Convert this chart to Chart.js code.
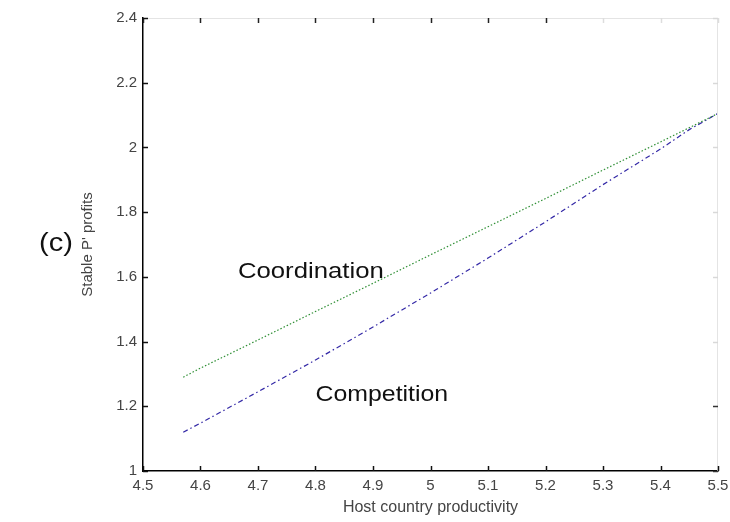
<!DOCTYPE html>
<html>
<head>
<title>Coordination vs Competition</title>
<script src="https://cdn.jsdelivr.net/npm/chart.js"></script>
<style>
body { margin: 0; background: #fff; }
</style>
</head>
<body>
<canvas id="chart" width="730" height="522"></canvas>
<script>
// values
const productivity = [4.57, 4.6, 4.7, 4.8, 4.9, 5.0, 5.1, 5.2, 5.3, 5.4, 5.45, 5.5];
const coordination = [1.29, 1.318, 1.405, 1.493, 1.58, 1.668, 1.755, 1.842, 1.93, 2.017, 2.061, 2.105];
const competition = [1.12, 1.148, 1.245, 1.343, 1.445, 1.55, 1.658, 1.77, 1.885, 1.995, 2.055, 2.105];
const xTicks = [4.5, 4.6, 4.7, 4.8, 4.9, 5.0, 5.1, 5.2, 5.3, 5.4, 5.5];
const yTicks = [1, 1.2, 1.4, 1.6, 1.8, 2.0, 2.2, 2.4];

const fmt = v => String(+Number(v).toFixed(1));
const FONT = '"Liberation Sans", Arial, sans-serif';

// MATLAB-like box: inward ticks on all sides, faint top/right edges, text labels
const boxPlugin = {
    id: 'box',
    afterDraw(chart) {
        const ctx = chart.ctx;
        const xs = chart.scales.x, ys = chart.scales.y;
        const a = chart.chartArea;
        ctx.save();
        ctx.lineWidth = 1;
        ctx.strokeStyle = '#e4e4e4';
        ctx.beginPath();
        ctx.moveTo(a.left, a.top + 0.5); ctx.lineTo(a.right, a.top + 0.5);
        ctx.moveTo(a.right - 0.5, a.top); ctx.lineTo(a.right - 0.5, a.bottom);
        ctx.stroke();

        ctx.lineWidth = 1.5;
        xs.ticks.forEach((t, i) => {
            const px = Math.round(xs.getPixelForTick(i)) + 0.5;
            ctx.strokeStyle = '#111';
            ctx.beginPath(); ctx.moveTo(px, a.bottom); ctx.lineTo(px, a.bottom - 5); ctx.stroke();
            ctx.strokeStyle = t.value > 5.25 ? '#dddddd' : '#222';
            ctx.beginPath(); ctx.moveTo(px, a.top); ctx.lineTo(px, a.top + 5); ctx.stroke();
        });
        ys.ticks.forEach((t, i) => {
            const py = Math.round(ys.getPixelForTick(i)) + 0.5;
            ctx.strokeStyle = '#111';
            ctx.beginPath(); ctx.moveTo(a.left, py); ctx.lineTo(a.left + 5, py); ctx.stroke();
            ctx.strokeStyle = t.value < 1.3 ? '#333' : '#d8d8d8';
            ctx.beginPath(); ctx.moveTo(a.right, py); ctx.lineTo(a.right - 5, py); ctx.stroke();
        });

        ctx.fillStyle = '#111';
        ctx.textBaseline = 'middle';
        ctx.textAlign = 'left';
        const label = (text, x, y, size, sx) => {
            ctx.save();
            ctx.translate(x, y);
            ctx.scale(sx, 1);
            ctx.font = size + 'px ' + FONT;
            ctx.fillText(text, 0, 0);
            ctx.restore();
        };
        label('Coordination', xs.getPixelForValue(4.665), ys.getPixelForValue(1.615), 22, 1.17);
        label('Competition', xs.getPixelForValue(4.80), ys.getPixelForValue(1.235), 22, 1.13);
        label('(c)', 39, 244, 26, 1.12);
        ctx.restore();
    }
};

new Chart(document.getElementById('chart'), {
    type: 'line',
    data: {
        datasets: [{
            label: 'Coordination',
            data: productivity.map((x, i) => ({ x: x, y: coordination[i] })),
            borderColor: '#2f8f35',
            borderWidth: 1.2,
            borderDash: [1.5, 2],
            pointRadius: 0,
            tension: 0
        }, {
            label: 'Competition',
            data: productivity.map((x, i) => ({ x: x, y: competition[i] })),
            borderColor: '#3328a6',
            borderWidth: 1.2,
            borderDash: [5, 3, 1.5, 3],
            pointRadius: 0,
            tension: 0
        }]
    },
    options: {
        responsive: false,
        animation: false,
        layout: { padding: { left: 79, right: 12, top: 18, bottom: 0 } },
        plugins: {
            legend: { display: false },
            tooltip: { enabled: false }
        },
        scales: {
            x: {
                type: 'linear',
                min: 4.5,
                max: 5.5,
                afterBuildTicks: s => { s.ticks = xTicks.map(v => ({ value: v })); },
                afterFit: s => { s.height = 51; s.paddingLeft = 0; s.paddingRight = 0; },
                grid: { display: false, drawTicks: false },
                border: { display: true, color: '#000', width: 1.5 },
                ticks: {
                    padding: 6,
                    maxRotation: 0,
                    autoSkip: false,
                    color: '#444',
                    font: { family: FONT, size: 15 },
                    callback: v => fmt(v)
                },
                title: {
                    display: true,
                    text: 'Host country productivity',
                    color: '#444',
                    font: { family: FONT, size: 16 },
                    padding: { top: 0, bottom: 5 }
                }
            },
            y: {
                type: 'linear',
                min: 1,
                max: 2.4,
                afterBuildTicks: s => { s.ticks = yTicks.map(v => ({ value: v })); },
                afterFit: s => { s.width = 64; s.paddingTop = 0; s.paddingBottom = 0; },
                grid: { display: false, drawTicks: false },
                border: { display: true, color: '#000', width: 1.5 },
                ticks: {
                    padding: 6,
                    autoSkip: false,
                    color: '#444',
                    font: { family: FONT, size: 15 },
                    callback: v => fmt(v)
                },
                title: {
                    display: true,
                    text: "Stable P' profits",
                    color: '#444',
                    font: { family: FONT, size: 15 },
                    padding: { top: 0, bottom: 0 }
                }
            }
        }
    },
    plugins: [boxPlugin]
});
</script>
</body>
</html>
